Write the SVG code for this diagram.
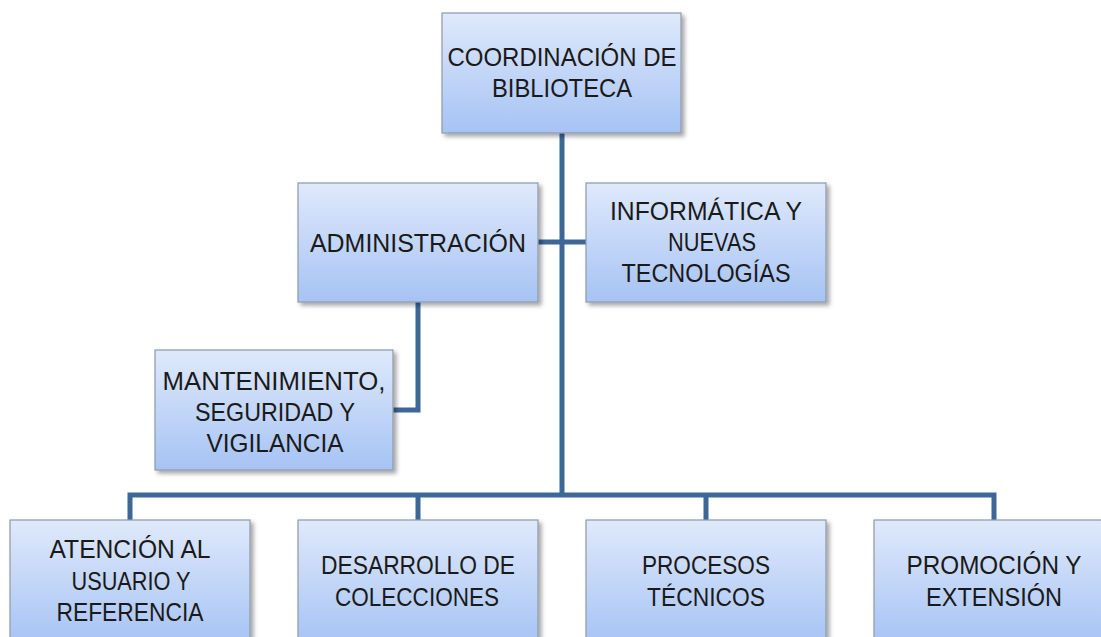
<svg xmlns="http://www.w3.org/2000/svg" width="1101" height="637" viewBox="0 0 1101 637">
<defs>
<linearGradient id="g" x1="0" y1="0" x2="0" y2="1">
<stop offset="0" stop-color="#dfe9fb"/>
<stop offset="1" stop-color="#a6c3f4"/>
</linearGradient>
<filter id="sh" x="-10%" y="-10%" width="130%" height="130%">
<feDropShadow dx="3" dy="3" stdDeviation="2" flood-color="#000" flood-opacity="0.35"/>
</filter>
</defs>
<style>
.box{fill:url(#g);stroke:#8c9aab;stroke-width:1.2;filter:url(#sh)}
.t{font-family:"Liberation Sans",Arial,sans-serif;font-size:25px;fill:#1a1a1a;text-anchor:middle}
.c{fill:none;stroke:#3d6797;stroke-width:5;stroke-linejoin:miter}
</style>
<rect width="1101" height="637" fill="#fff"/>
<g id="connectors">
<path class="c" d="M562 133 V495"/>
<path class="c" d="M538 242 H586"/>
<path class="c" d="M418 302 V410 H393"/>
<path class="c" d="M130 520 V495 H994 V520"/>
<path class="c" d="M418 495 V520"/>
<path class="c" d="M706 495 V520"/>
</g>
<g id="coordinacion">
<rect class="box" x="442" y="13" width="239" height="120"/>
<text class="t" x="562" y="66" textLength="229" lengthAdjust="spacingAndGlyphs">COORDINACIÓN DE</text>
<text class="t" x="562" y="97" textLength="140" lengthAdjust="spacingAndGlyphs">BIBLIOTECA</text>
</g>
<g id="administracion">
<rect class="box" x="298" y="183" width="240" height="119"/>
<text class="t" x="418" y="252" textLength="216" lengthAdjust="spacingAndGlyphs">ADMINISTRACIÓN</text>
</g>
<g id="informatica">
<rect class="box" x="586" y="183" width="240" height="119"/>
<text class="t" x="706" y="220" textLength="192" lengthAdjust="spacingAndGlyphs">INFORMÁTICA Y</text>
<text class="t" x="712" y="251" textLength="88" lengthAdjust="spacingAndGlyphs">NUEVAS</text>
<text class="t" x="706" y="282" textLength="169" lengthAdjust="spacingAndGlyphs">TECNOLOGÍAS</text>
</g>
<g id="mantenimiento">
<rect class="box" x="155" y="350" width="238" height="120"/>
<text class="t" x="274" y="390" textLength="223" lengthAdjust="spacingAndGlyphs">MANTENIMIENTO,</text>
<text class="t" x="275" y="421" textLength="160" lengthAdjust="spacingAndGlyphs">SEGURIDAD Y</text>
<text class="t" x="275" y="452" textLength="137" lengthAdjust="spacingAndGlyphs">VIGILANCIA</text>
</g>
<g id="atencion">
<rect class="box" x="10" y="520" width="240" height="125"/>
<text class="t" x="130" y="558" textLength="161" lengthAdjust="spacingAndGlyphs">ATENCIÓN AL</text>
<text class="t" x="131" y="590" textLength="119" lengthAdjust="spacingAndGlyphs">USUARIO Y</text>
<text class="t" x="130" y="621" textLength="147" lengthAdjust="spacingAndGlyphs">REFERENCIA</text>
</g>
<g id="desarrollo">
<rect class="box" x="298" y="520" width="240" height="125"/>
<text class="t" x="418" y="574" textLength="194" lengthAdjust="spacingAndGlyphs">DESARROLLO DE</text>
<text class="t" x="417" y="606" textLength="164" lengthAdjust="spacingAndGlyphs">COLECCIONES</text>
</g>
<g id="procesos">
<rect class="box" x="586" y="520" width="240" height="125"/>
<text class="t" x="706" y="574" textLength="128" lengthAdjust="spacingAndGlyphs">PROCESOS</text>
<text class="t" x="706" y="606" textLength="118" lengthAdjust="spacingAndGlyphs">TÉCNICOS</text>
</g>
<g id="promocion">
<rect class="box" x="874" y="520" width="240" height="125"/>
<text class="t" x="994" y="574" textLength="175" lengthAdjust="spacingAndGlyphs">PROMOCIÓN Y</text>
<text class="t" x="994" y="606" textLength="136" lengthAdjust="spacingAndGlyphs">EXTENSIÓN</text>
</g>
</svg>
